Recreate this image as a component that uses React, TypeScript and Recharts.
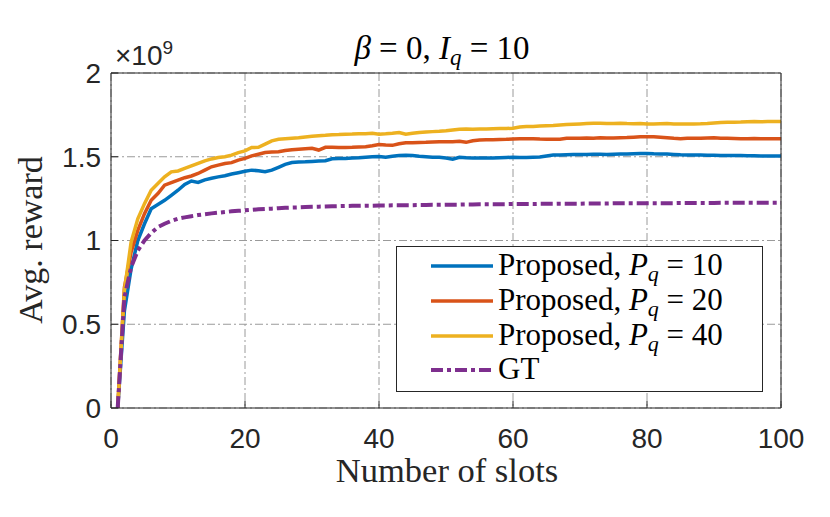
import {
  LineChart,
  Line,
  XAxis,
  YAxis,
  CartesianGrid,
} from "recharts";

// rewards in units of 1e9, one value per slot (1..100)
const slots = Array.from({ length: 100 }, (_, i) => i + 1);

const proposedP10 = [
  0, 0.58, 0.83, 1.0, 1.1, 1.19, 1.215, 1.24, 1.27, 1.3,
  1.335, 1.355, 1.347, 1.362, 1.372, 1.38, 1.387, 1.397, 1.405, 1.413,
  1.42, 1.416, 1.411, 1.42, 1.437, 1.455, 1.466, 1.469, 1.47, 1.472,
  1.474, 1.476, 1.488, 1.49, 1.49, 1.492, 1.494, 1.497, 1.5, 1.502,
  1.497, 1.503, 1.508, 1.509, 1.507, 1.503, 1.5, 1.497, 1.497, 1.492,
  1.485, 1.497, 1.494, 1.493, 1.493, 1.493, 1.492, 1.494, 1.496, 1.497,
  1.495, 1.496, 1.497, 1.498, 1.505, 1.51, 1.511, 1.512, 1.513, 1.513,
  1.514, 1.515, 1.515, 1.514, 1.515, 1.516, 1.517, 1.518, 1.519, 1.52,
  1.518, 1.517, 1.516, 1.514, 1.512, 1.511, 1.51, 1.51, 1.509, 1.509,
  1.508, 1.508, 1.507, 1.507, 1.506, 1.506, 1.505, 1.505, 1.504, 1.504,
];

const proposedP20 = [
  0, 0.72, 0.93, 1.06, 1.16, 1.24, 1.28, 1.33, 1.345, 1.36,
  1.375, 1.385, 1.4, 1.42, 1.44, 1.45, 1.46, 1.465, 1.48, 1.49,
  1.505, 1.515, 1.525, 1.528, 1.53, 1.537, 1.542, 1.545, 1.548, 1.55,
  1.54, 1.556, 1.556, 1.555, 1.555, 1.556, 1.558, 1.56, 1.566, 1.573,
  1.57, 1.568, 1.578, 1.584, 1.583, 1.585, 1.586, 1.588, 1.59, 1.59,
  1.59, 1.592, 1.586, 1.595, 1.6, 1.601, 1.602, 1.603, 1.604, 1.606,
  1.607, 1.607, 1.608, 1.606, 1.605, 1.604, 1.605, 1.611, 1.61, 1.61,
  1.612, 1.611, 1.613, 1.612, 1.612, 1.614, 1.615, 1.617, 1.619, 1.62,
  1.619, 1.617, 1.614, 1.61, 1.608, 1.61, 1.611, 1.611, 1.612, 1.613,
  1.611, 1.61, 1.609, 1.608, 1.608, 1.609, 1.608, 1.608, 1.608, 1.608,
];

const proposedP40 = [
  0, 0.7, 0.99, 1.13, 1.22, 1.3, 1.34, 1.38, 1.41, 1.415,
  1.43, 1.445, 1.46, 1.475, 1.487, 1.495, 1.5, 1.51, 1.525, 1.535,
  1.555, 1.556, 1.575, 1.595, 1.604, 1.607, 1.61, 1.613, 1.618, 1.622,
  1.625, 1.628, 1.632, 1.633, 1.635, 1.636, 1.638, 1.638, 1.64, 1.635,
  1.637, 1.64, 1.644, 1.634, 1.64, 1.645, 1.648, 1.65, 1.652, 1.655,
  1.66, 1.664, 1.665, 1.664, 1.665, 1.666, 1.667, 1.668, 1.669, 1.67,
  1.678, 1.68, 1.681, 1.683, 1.685, 1.687, 1.69, 1.692, 1.694, 1.696,
  1.698, 1.7, 1.7, 1.699, 1.698, 1.7, 1.698, 1.697, 1.698, 1.696,
  1.695, 1.697, 1.698, 1.696, 1.695, 1.696, 1.696, 1.697, 1.699, 1.702,
  1.705, 1.706, 1.706, 1.707, 1.709, 1.71, 1.709, 1.71, 1.711, 1.711,
];

const gtReward = [
  0, 0.66, 0.84, 0.94, 1.0, 1.045, 1.08, 1.1, 1.117, 1.13,
  1.138, 1.145, 1.152, 1.157, 1.162, 1.166, 1.17, 1.174, 1.177, 1.18,
  1.183, 1.186, 1.188, 1.19, 1.193, 1.195, 1.197, 1.198, 1.2, 1.201,
  1.202, 1.203, 1.204, 1.205, 1.206, 1.207, 1.207, 1.208, 1.208, 1.209,
  1.209, 1.21, 1.21, 1.211, 1.211, 1.212, 1.212, 1.213, 1.213, 1.214,
  1.214, 1.214, 1.215, 1.215, 1.216, 1.216, 1.216, 1.217, 1.217, 1.218,
  1.218, 1.218, 1.218, 1.219, 1.219, 1.219, 1.22, 1.22, 1.22, 1.22,
  1.221, 1.221, 1.221, 1.221, 1.222, 1.222, 1.222, 1.222, 1.222, 1.223,
  1.223, 1.223, 1.223, 1.223, 1.224, 1.224, 1.224, 1.224, 1.224, 1.224,
  1.225, 1.225, 1.225, 1.225, 1.225, 1.225, 1.225, 1.225, 1.225, 1.225,
];

const xTicks = [0, 20, 40, 60, 80, 100];
const yTicks = [0, 0.5, 1, 1.5, 2];

const series = [
  { key: "p10", pq: "10", color: "#0072BD", dash: undefined, width: 3.5 },
  { key: "p20", pq: "20", color: "#D95319", dash: undefined, width: 3.5 },
  { key: "p40", pq: "40", color: "#EDB120", dash: undefined, width: 3.5 },
  { key: "gt", pq: "", color: "#7E2F8E", dash: "12 4 4 4", width: 4 },
];

const chartData = slots.map((slot, i) => ({
  slot,
  p10: proposedP10[i],
  p20: proposedP20[i],
  p40: proposedP40[i],
  gt: gtReward[i],
}));

const AXIS = "#262626";
const SERIF = "'Liberation Serif', 'Times New Roman', serif";
const SANS = "'Liberation Sans', Arial, sans-serif";

const tickStyle = { fontSize: 28, fill: AXIS, fontFamily: SANS };

// legend box sits over the plot, top-left corner at (396, 246)
function LegendBox() {
  const rowBase = [29, 64, 99, 133];
  return (
    <g transform="translate(396 246)">
      <rect x={0.5} y={0.5} width={366} height={145} fill="#fff" stroke={AXIS} strokeWidth={1} />
      {series.map((s, i) => (
        <g key={s.key}>
          <line
            x1={35}
            x2={97}
            y1={rowBase[i] - 9}
            y2={rowBase[i] - 9}
            stroke={s.color}
            strokeWidth={s.width}
            strokeDasharray={s.dash}
          />
          {s.key === "gt" ? (
            <text x={102} y={rowBase[i]} fontFamily={SERIF} fontSize={31} fill="#000">
              GT
            </text>
          ) : (
            <text x={102} y={rowBase[i]} fontFamily={SERIF} fontSize={31} fill="#000">
              Proposed,{" "}
              <tspan fontStyle="italic">P</tspan>
              <tspan fontStyle="italic" fontSize={22} dy={6}>q</tspan>
              <tspan dy={-6}> = {s.pq}</tspan>
            </text>
          )}
        </g>
      ))}
    </g>
  );
}

export default function App() {
  return (
    <div style={{ position: "absolute", left: 0, top: 0, width: 830, height: 517, background: "#fff" }}>
      <LineChart
        width={830}
        height={517}
        data={chartData}
        margin={{ top: 72, right: 48, bottom: 79, left: 0 }}
      >
        <CartesianGrid stroke="#9a9a9a" strokeDasharray="8 3 2 3" strokeWidth={1} />
        <XAxis
          dataKey="slot"
          type="number"
          domain={[0, 100]}
          ticks={xTicks}
          height={30}
          stroke={AXIS}
          tickSize={-7}
          tickMargin={27}
          tick={tickStyle}
          interval={0}
        />
        <XAxis
          xAxisId="top"
          orientation="top"
          type="number"
          domain={[0, 100]}
          ticks={xTicks}
          height={1}
          stroke={AXIS}
          tickSize={-7}
          tick={false}
        />
        <YAxis
          type="number"
          domain={[0, 2]}
          ticks={yTicks}
          width={111}
          stroke={AXIS}
          tickSize={-7}
          tickMargin={17}
          tick={tickStyle}
          interval={0}
        />
        <YAxis
          yAxisId="right"
          orientation="right"
          type="number"
          domain={[0, 2]}
          ticks={yTicks}
          width={1}
          stroke={AXIS}
          tickSize={-7}
          tick={false}
        />
        {series.map((s) => (
          <Line
            key={s.key}
            dataKey={s.key}
            type="linear"
            stroke={s.color}
            strokeWidth={s.width}
            strokeDasharray={s.dash}
            dot={false}
            activeDot={false}
            isAnimationActive={false}
          />
        ))}
      </LineChart>
      <svg
        width={830}
        height={517}
        style={{ position: "absolute", left: 0, top: 0, pointerEvents: "none" }}
      >
        <LegendBox />
        <text x={442} y={59} textAnchor="middle" fontFamily={SERIF} fontSize={33} fill="#000">
          <tspan fontStyle="italic">β</tspan>
          <tspan> = 0, </tspan>
          <tspan fontStyle="italic">I</tspan>
          <tspan fontStyle="italic" fontSize={23} dy={6}>q</tspan>
          <tspan dy={-6}> = 10</tspan>
        </text>
        <text x={115} y={65} fontFamily={SANS} fontSize={28} fill={AXIS}>
          ×10
          <tspan fontSize={19} dy={-11}>9</tspan>
        </text>
        <text x={447} y={482} textAnchor="middle" fontFamily={SERIF} fontSize={34.5} fill={AXIS}>
          Number of slots
        </text>
        <text
          x={42}
          y={240}
          textAnchor="middle"
          transform="rotate(-90 42 240)"
          fontFamily={SERIF}
          fontSize={34}
          fill={AXIS}
        >
          Avg. reward
        </text>
      </svg>
    </div>
  );
}
